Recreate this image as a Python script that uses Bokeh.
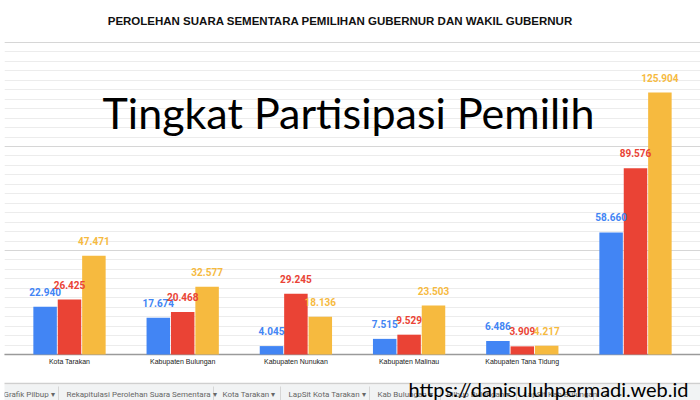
from bokeh.plotting import figure
from bokeh.models import FactorRange, Range1d, Grid, FixedTicker, ColumnDataSource
from bokeh.transform import dodge
from bokeh.core.properties import value
from bokeh.embed import file_html
from bokeh.resources import INLINE

# ---- data ----
categories = ["Kota Tarakan", "Kabupaten Bulungan", "Kabupaten Nunukan",
              "Kabupaten Malinau", "Kabupaten Tana Tidung", "Jumlah"]
tick_labels = ["Kota Tarakan", "Kabupaten Bulungan", "Kabupaten Nunukan",
               "Kabupaten Malinau", "Kabupaten Tana Tidung", ""]
paslon_1 = [22940, 17674, 4045, 7515, 6486, 58660]
paslon_2 = [26425, 20468, 29245, 9529, 3909, 89576]
paslon_3 = [47471, 32577, 18136, 23503, 4217, 125904]
y_ticks = [0, 50000, 100000, 150000]

header = "PEROLEHAN SUARA SEMENTARA PEMILIHAN GUBERNUR DAN WAKIL GUBERNUR"
big_title = "Tingkat Partisipasi Pemilih"
watermark = "https://danisuluhpermadi.web.id"
tabs = ["Grafik Pilbup \u25be", "Rekapitulasi Perolehan Suara Sementara \u25be",
        "Kota Tarakan \u25be", "LapSit Kota Tarakan \u25be", "Kab Bulungan \u25be",
        "Pilbup Bulungan \u25be", "LapSit Kab Bulungan", "\u25c2", "\u25b8"]

colors = ["#4285F4", "#EA4335", "#F6BA3F"]

W, H = 700, 400
LEFT = 4
n = len(categories)
PXU = 113.2
PAD = (W - LEFT) / PXU - n
x_start = -PAD / 2
VPX = 150000 / 312.0


def ux(sx):
    return x_start + (sx - LEFT) / PXU


def vy(sy):
    return (354 - sy) * VPX


def fmt(v):
    return f"{v:,}".replace(",", ".")


src = ColumnDataSource(dict(
    cat=categories,
    a=paslon_1, b=paslon_2, c=paslon_3,
    la=[fmt(v) for v in paslon_1],
    lb=[fmt(v) for v in paslon_2],
    lc=[fmt(v) for v in paslon_3],
))

p = figure(width=W, height=H, output_backend="svg", toolbar_location=None,
           x_range=FactorRange(factors=categories, range_padding=PAD / 2,
                               range_padding_units="absolute"),
           y_range=Range1d(vy(400), vy(0)),
           x_axis_location=None, y_axis_location=None,
           min_border=0, min_border_left=LEFT, min_border_right=0,
           min_border_top=0, min_border_bottom=0)
p.outline_line_color = None
p.background_fill_color = "white"
p.border_fill_color = "white"
p.grid.visible = False

step = 50000 / 11
minor = [i * step for i in range(0, 34)]
grid = Grid(dimension=1, ticker=FixedTicker(ticks=y_ticks, minor_ticks=minor),
            grid_line_color="#d6d6d6", grid_line_width=1,
            minor_grid_line_color="#ececec", minor_grid_line_width=1)
p.add_layout(grid, "center")

# baseline
p.segment(x0=[ux(0)], x1=[ux(700)], y0=[0], y1=[0], line_color="#9a9a9a", line_width=1.3)

# bars
offs = [-0.2155, 0.0, 0.2155]
bw = 0.2076
for key, off, col in zip(["a", "b", "c"], offs, colors):
    xd = dodge("cat", off, range=p.x_range)
    p.vbar(x=xd, top=key, width=bw, bottom=0, source=src,
           fill_color=col, line_color=None)

# value labels
for key, lab, off, col in zip(["a", "b", "c"], ["la", "lb", "lc"], offs, colors):
    xd = dodge("cat", off, range=p.x_range)
    p.text(x=xd, y=key, text=lab, source=src, text_color=col,
           text_font=value("Roboto"), text_font_style="bold", text_font_size="10px",
           text_align="center", text_baseline="middle", y_offset=-15)

# category labels
p.text(x=categories, y=[vy(361)] * n, text=tick_labels, text_color="#222222",
       text_font=value("Liberation Sans"), text_font_size="7px",
       text_align="center", text_baseline="middle")

# header title
p.text(x=[ux(340)], y=[vy(20)], text=[header], text_color="#111111",
       text_font=value("Liberation Sans"), text_font_style="bold", text_font_size="11.5px",
       text_align="center", text_baseline="middle")

# footer: separator line and tab bar
p.quad(left=[ux(0)], right=[ux(700)], bottom=[vy(400)], top=[vy(384)],
       fill_color="#f1f3f4", line_color=None)
p.segment(x0=[ux(0)], x1=[ux(700)], y0=[vy(383)], y1=[vy(383)],
          line_color="#cfcfcf", line_width=1.5)
sep_x = [58, 213, 280, 369, 440, 516, 593]
p.segment(x0=[ux(s) for s in sep_x], x1=[ux(s) for s in sep_x],
          y0=[vy(386)] * len(sep_x), y1=[vy(400)] * len(sep_x),
          line_color="#d6d6d6", line_width=1)
tab_x = [3, 66, 222, 288, 377, 446, 523, 603, 617]
p.text(x=[ux(t) for t in tab_x], y=[vy(393.5)] * len(tabs), text=tabs,
       text_color="#666666", text_font=value("Roboto"), text_font_size="8px",
       text_align="left", text_baseline="middle")

# overlay title
p.text(x=[ux(348)], y=[vy(112)], text=[big_title], text_color="#000000",
       text_font=value("Lato"), text_font_size="43px",
       text_align="center", text_baseline="alphabetic")

# watermark
p.text(x=[ux(408)], y=[vy(388.5)], text=[watermark], text_color="#000000",
       text_font=value("Lato"), text_font_size="20px",
       text_align="left", text_baseline="alphabetic")

open("out.html", "w").write(file_html(p, INLINE))
